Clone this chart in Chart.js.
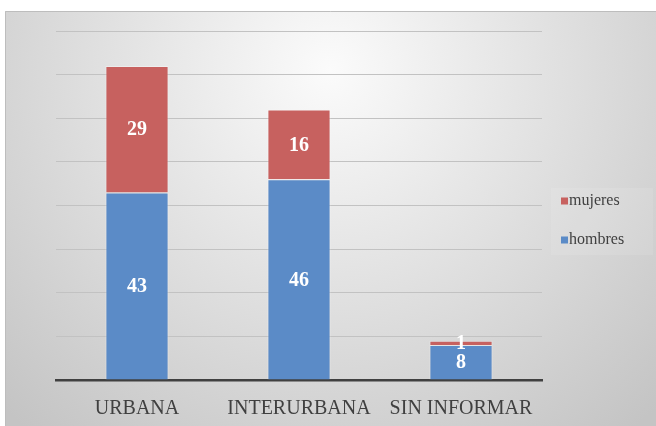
<!DOCTYPE html>
<html>
<head>
<meta charset="utf-8">
<script src="https://cdn.jsdelivr.net/npm/chart.js@4.4.0/dist/chart.umd.min.js"></script>
<style>
  html, body { margin: 0; padding: 0; background: #fff; }
  #wrap { width: 656px; height: 426px; }
</style>
</head>
<body>
<div id="wrap"><canvas id="grafico" width="656" height="426"></canvas></div>
<script>
var categorias = ["URBANA", "INTERURBANA", "SIN INFORMAR"];
var hombres = [43, 46, 8];
var mujeres = [29, 16, 1];
var marcasY = [0, 10, 20, 30, 40, 50, 60, 70, 80];

var azul = "#5b8bc7";
var rojo = "#c7615f";
var serif = "'Liberation Serif', 'Times New Roman', serif";

// fondo gris con degradado, como el area del grafico de Excel
var fondo = {
    id: "fondo",
    beforeDraw: function (chart) {
        var ctx = chart.ctx;
        ctx.save();
        ctx.fillStyle = "#ffffff";
        ctx.fillRect(0, 0, chart.width, chart.height);
        var g = ctx.createRadialGradient(330, 70, 0, 330, 70, 470);
        g.addColorStop(0, "#fbfbfb");
        g.addColorStop(1, "#c4c4c4");
        ctx.fillStyle = g;
        ctx.fillRect(5, 11, chart.width - 5, chart.height - 11);
        ctx.strokeStyle = "#bdbdbd";
        ctx.lineWidth = 1;
        ctx.beginPath();
        ctx.moveTo(5.5, chart.height);
        ctx.lineTo(5.5, 11.5);
        ctx.lineTo(chart.width, 11.5);
        ctx.stroke();
        ctx.restore();
    }
};

// valores dentro de cada segmento
var etiquetas = {
    id: "etiquetas",
    afterDatasetsDraw: function (chart) {
        var ctx = chart.ctx;
        ctx.save();
        ctx.fillStyle = "#ffffff";
        ctx.font = "bold 20px " + serif;
        ctx.textAlign = "center";
        ctx.textBaseline = "middle";
        chart.data.datasets.forEach(function (ds, i) {
            chart.getDatasetMeta(i).data.forEach(function (bar, j) {
                var y = (bar.y + bar.base) / 2;
                ctx.fillText(String(ds.data[j]), bar.x, y + 1);
            });
        });
        ctx.restore();
    }
};

// leyenda a la derecha: mujeres arriba, hombres abajo
var leyenda = {
    id: "leyenda",
    afterDraw: function (chart) {
        var ctx = chart.ctx;
        ctx.save();
        ctx.fillStyle = "rgba(255,255,255,0.1)";
        ctx.fillRect(551, 188, 102, 67);
        ctx.font = "16px " + serif;
        ctx.textBaseline = "middle";
        ctx.textAlign = "left";
        var orden = [1, 0];
        orden.forEach(function (i, k) {
            var ds = chart.data.datasets[i];
            var y = 201 + k * 39;
            ctx.fillStyle = ds.backgroundColor;
            ctx.fillRect(561, y - 3.5, 7, 7);
            ctx.fillStyle = "#404040";
            ctx.fillText(ds.label, 569, y);
        });
        ctx.restore();
    }
};

new Chart(document.getElementById("grafico"), {
    type: "bar",
    data: {
        labels: categorias,
        datasets: [
            {
                label: "hombres",
                data: hombres,
                backgroundColor: azul,
                borderColor: "rgba(255,255,255,0.35)",
                borderWidth: 1,
                borderSkipped: "bottom",
                categoryPercentage: 1,
                barPercentage: 0.39
            },
            {
                label: "mujeres",
                data: mujeres,
                backgroundColor: rojo,
                borderColor: "rgba(255,255,255,0.35)",
                borderWidth: 1,
                borderSkipped: "bottom",
                categoryPercentage: 1,
                barPercentage: 0.39
            }
        ]
    },
    options: {
        responsive: false,
        animation: false,
        layout: { padding: { left: 56, right: 114, top: 31, bottom: 0 } },
        plugins: {
            legend: { display: false },
            tooltip: { enabled: false }
        },
        scales: {
            x: {
                stacked: true,
                grid: { display: false, drawTicks: false },
                border: { display: true, color: "#404040", width: 2.5 },
                ticks: {
                    color: "#404040",
                    font: { family: serif, size: 20 },
                    padding: 17
                },
                afterFit: function (s) { s.height = 46; }
            },
            y: {
                stacked: true,
                min: 0,
                max: 80,
                afterBuildTicks: function (s) {
                    s.ticks = marcasY.map(function (v) { return { value: v }; });
                },
                grid: { color: "#c2c2c2", lineWidth: 1, drawTicks: false },
                border: { display: false },
                ticks: { display: false },
                afterFit: function (s) { s.width = 0; }
            }
        }
    },
    plugins: [fondo, etiquetas, leyenda]
});
</script>
</body>
</html>
